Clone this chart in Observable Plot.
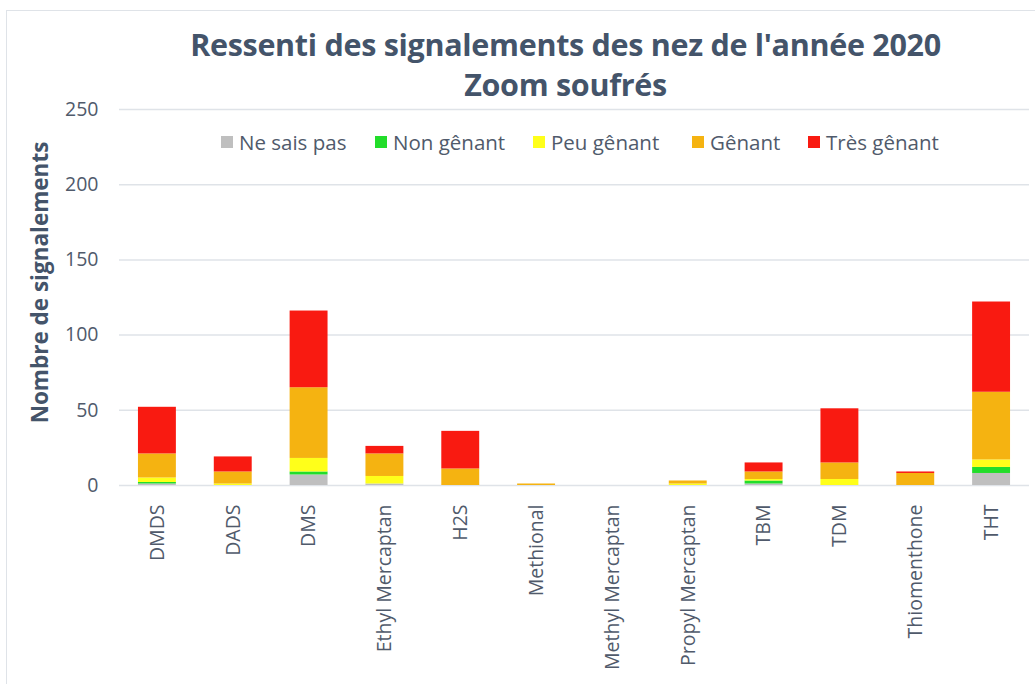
<!DOCTYPE html>
<html>
<head>
<meta charset="utf-8">
<script src="https://cdn.jsdelivr.net/npm/d3@7"></script>
<script src="https://cdn.jsdelivr.net/npm/@observablehq/plot@0.6"></script>
<style>
  html, body { margin: 0; padding: 0; background: #fff; }
  body { width: 1035px; height: 684px; position: relative; overflow: hidden; font-family: "Open Sans", "Noto Sans", sans-serif; }
  #frame { position: absolute; left: 6px; top: 10px; width: 1040px; height: 700px; border: 1.5px solid #dfe3e8; box-sizing: border-box; }
  #chart { position: absolute; left: 0; top: 0; }
  #title { position: absolute; left: 48px; width: 1035px; top: 24px; text-align: center; font-weight: 700; font-size: 30.5px; line-height: 40px; color: #44546a; letter-spacing: -0.3px; }
  #legend { position: absolute; top: 128px; left: 221px; font-size: 20.5px; color: #505a6b; }
  .item { display: flex; align-items: center; }
  .sw { width: 12px; height: 12px; margin-right: 6px; }
</style>
</head>
<body>
<div id="frame"></div>
<div id="chart"></div>
<div id="title">Ressenti des signalements des nez de l'année 2020<br>Zoom soufrés</div>
<div id="legend"></div>
<script>
const categories = ["DMDS", "DADS", "DMS", "Ethyl Mercaptan", "H2S", "Methional", "Methyl Mercaptan", "Propyl Mercaptan", "TBM", "TDM", "Thiomenthone", "THT"];
const series = ["Ne sais pas", "Non gênant", "Peu gênant", "Gênant", "Très gênant"];
const colors = ["#bfbfbf", "#22dd2a", "#ffff1a", "#f5b311", "#f91a11"];
const neSaisPas  = [1, 0, 7, 1, 0, 0, 0, 0, 1, 0, 0, 8];
const nonGenant  = [1, 0, 2, 0, 0, 0, 0, 0, 2, 0, 0, 4];
const peuGenant  = [3, 1, 9, 5, 0, 0, 0, 1, 1, 4, 0, 5];
const genant     = [16, 8, 47, 15, 11, 1, 0, 2, 5, 11, 8, 45];
const tresGenant = [31, 10, 51, 5, 25, 0, 0, 0, 6, 36, 1, 60];
const yTicks = [0, 50, 100, 150, 200, 250];

const valuesBySeries = [neSaisPas, nonGenant, peuGenant, genant, tresGenant];
const data = [];
categories.forEach((c, i) => {
  series.forEach((s, j) => data.push({cat: c, serie: s, value: valuesBySeries[j][i]}));
});

const chart = Plot.plot({
  width: 1035,
  height: 684,
  marginTop: 109,
  marginBottom: 199,
  marginLeft: 119,
  marginRight: 6,
  style: {fontFamily: "'Open Sans', 'Noto Sans', sans-serif", fontSize: "19px", color: "#505a6b", background: "transparent"},
  x: {domain: categories, paddingInner: 0.5, paddingOuter: 0.25, round: false, label: null},
  y: {domain: [0, 250], ticks: yTicks, label: null},
  color: {domain: series, range: colors},
  marks: [
    Plot.gridY(yTicks, {stroke: "#dfe3e8", strokeOpacity: 1, strokeWidth: 1.5}),
    Plot.barY(data, {x: "cat", y: "value", fill: "serie", order: series}),
    Plot.axisY(yTicks, {tickSize: 0, tickPadding: 21, fontSize: 19.5, fill: "#505a6b", label: null}),
    Plot.axisX({tickSize: 0, tickPadding: 19, tickRotate: -90, fontSize: 19.5, fill: "#505a6b", label: null}),
    Plot.text(["Nombre de signalements"], {frameAnchor: "left", textAnchor: "middle", dx: -79, dy: -15, rotate: -90, fontWeight: "bold", fontSize: 22.5, fill: "#44546a"})
  ]
});
document.getElementById("chart").appendChild(chart);

const legend = document.getElementById("legend");
const lefts = [0, 154, 312, 471, 587];
series.forEach((s, i) => {
  const d = document.createElement("div");
  d.className = "item";
  d.style.position = "absolute";
  d.style.left = lefts[i] + "px";
  d.style.whiteSpace = "nowrap";
  d.innerHTML = `<span class="sw" style="background:${colors[i]}"></span><span>${s}</span>`;
  legend.appendChild(d);
});
</script>
</body>
</html>
